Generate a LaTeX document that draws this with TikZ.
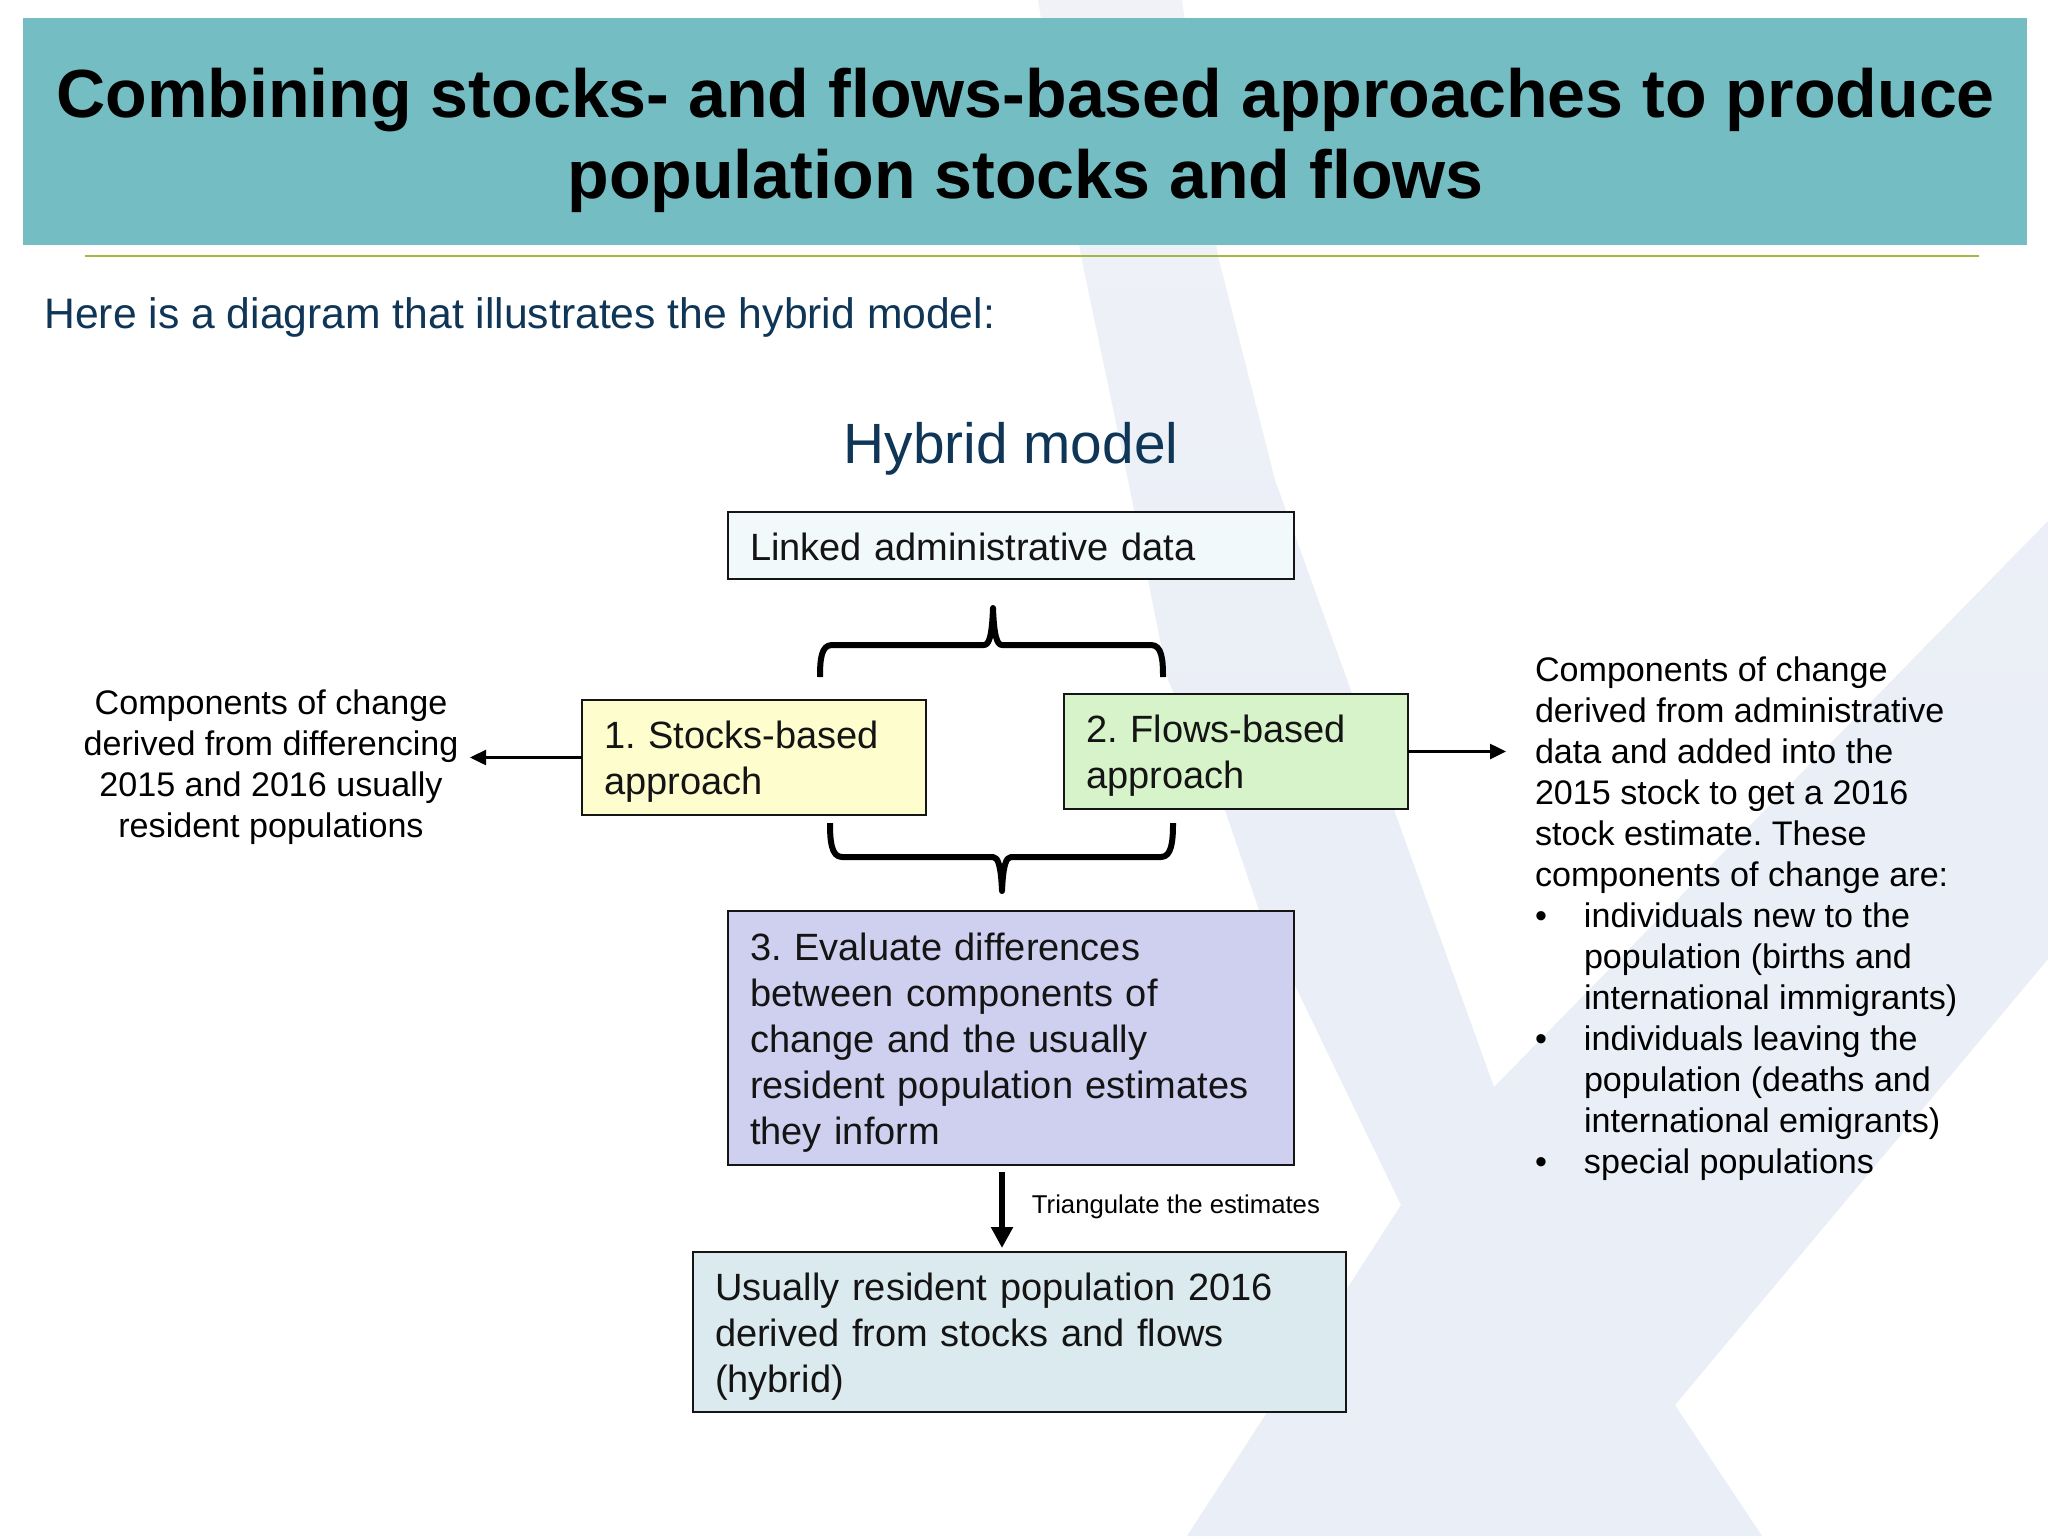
\documentclass[tikz,border=0pt]{standalone}
\usepackage{fontspec}
\setmainfont{Liberation Sans}
\usetikzlibrary{arrows.meta}
\AtBeginDocument{\frenchspacing}
\definecolor{banner}{HTML}{74BDC3}
\definecolor{rulecol}{HTML}{A8B83F}
\definecolor{navy}{HTML}{0F3557}
\definecolor{wmarkT}{HTML}{F0F2F8}
\definecolor{wmarkB}{HTML}{EAEEF6}
\definecolor{boxline}{HTML}{151515}
\definecolor{fillA}{HTML}{F2F9FA}
\definecolor{fillB}{HTML}{FDFDCD}
\definecolor{fillC}{HTML}{D7F3C9}
\definecolor{fillD}{HTML}{CFCFEF}
\definecolor{fillE}{HTML}{DBEAEE}
\newcommand{\bul}{\makebox[24.5pt][l]{•}}
\newcommand{\topup}[1]{\rule{0pt}{#1}}
\tikzset{
  panel/.style={draw=boxline,line width=1.05pt,anchor=north west,inner xsep=11pt,inner ysep=0pt,
    outer sep=0pt,align=left,font=\fontsize{19}{23}\selectfont,text=black!92},
  side/.style={inner sep=0pt,outer sep=0pt,font=\fontsize{17.05}{20.5}\selectfont,text=black},
  thinarrow/.style={line width=1.25pt,draw=black,-{Triangle[length=8pt,width=7.5pt]}},
  thickarrow/.style={line width=3pt,draw=black,-{Triangle[length=10.5pt,width=10.5pt]}},
  bracket/.style={line width=3pt,draw=black,line join=round}
}
\begin{document}
\begin{tikzpicture}[x=0.5pt,y=-0.5pt]
\useasboundingbox (0,0) rectangle (2048,1536);
\fill[white] (0,0) rectangle (2048,1536);
% watermark
\shade[top color=wmarkT,bottom color=wmarkB,middle color=wmarkB] (1038,0) -- (1182,0) -- (1218,256) -- (1275,480) -- (1494,1087) -- (2048,521)
  -- (2048,959) -- (1675,1405) -- (1762,1536) -- (1187,1536) -- (1401,1205)
  -- (1260,913) -- (1226,813) -- (1168,680) -- (1128,480) -- (1081,256) -- cycle;
% header
\fill[banner] (23,18) rectangle (2027,245);
\node[inner sep=0pt,outer sep=0pt,align=center,font=\fontsize{34.07}{40.6}\bfseries\selectfont,text=black] (title) at (1025.5,140)
  {Combining stocks- and flows-based approaches to produce\\population stocks and flows};
\coordinate (ruleL) at (85,256);
\coordinate (ruleR) at (1979,256);
\draw[rulecol,line width=1.25pt] (ruleL) -- (ruleR);
\node[anchor=base west,inner sep=0pt,font=\fontsize{21.33}{26}\selectfont,text=navy] (intro) at (44,328)
  {Here is a diagram that illustrates the hybrid model:};
\node[anchor=base,inner sep=0pt,font=\fontsize{28.4}{35}\selectfont,text=navy] (hybrid) at (1011,463) {Hybrid model};
% boxes
\node[panel,fill=fillA,minimum width=283pt,minimum height=33.5pt,text width=261pt] (linked) at (728,512)
  {\topup{15.3pt}Linked administrative data};
\node[panel,fill=fillB,minimum width=172pt,minimum height=57.5pt,text width=150pt] (stocks) at (582,700)
  {\topup{18pt}1. Stocks-based\\approach};
\node[panel,fill=fillC,minimum width=172pt,minimum height=57.5pt,text width=150pt] (flows) at (1064,694)
  {\topup{18pt}2. Flows-based\\approach};
\node[panel,fill=fillD,minimum width=283pt,minimum height=127pt,text width=261pt] (evaluate) at (728,911)
  {\topup{18pt}3. Evaluate differences\\between components of\\change and the usually\\resident population estimates\\they inform};
\node[panel,fill=fillE,minimum width=326.5pt,minimum height=80pt,text width=304.5pt] (usual) at (693,1252)
  {\topup{18pt}Usually resident population 2016\\derived from stocks and flows\\(hybrid)};
% side texts
\node[side,align=center] (lefttext) at (271,767)
  {Components of change\\derived from differencing\\2015 and 2016 usually\\resident populations};
\node[side,align=left,anchor=north west] (righttext) at (1535,657)
  {Components of change\\derived from administrative\\data and added into the\\2015 stock to get a 2016\\stock estimate. These\\components of change are:\\
  \bul individuals new to the\\\hspace*{24.5pt}population (births and\\\hspace*{24.5pt}international immigrants)\\
  \bul individuals leaving the\\\hspace*{24.5pt}population (deaths and\\\hspace*{24.5pt}international emigrants)\\
  \bul special populations};
\node[anchor=base west,inner sep=0pt,font=\fontsize{12.87}{15}\selectfont,text=black] (tri) at (1031.5,1213)
  {Triangulate the estimates};
% connectors
\coordinate (lefttip) at (470,757);
\coordinate (righttip) at (1506,751);
\coordinate (triStart) at (1002,1172);
\coordinate (triEnd) at (1002,1248);
\draw[thinarrow] (stocks.west) -- (stocks.west -| lefttip);
\draw[thinarrow] (flows.east) -- (flows.east -| righttip);
\draw[thickarrow] (triStart) -- (triEnd);
% brackets
\draw[bracket] (820,677) .. controls (820,660) and (821,645) .. (832,645) -- (984,645)
  .. controls (989,645) and (992,636) .. (993,608)
  .. controls (994,636) and (997,645) .. (1002,645) -- (1151,645)
  .. controls (1162,645) and (1163,660) .. (1163,677);
\draw[bracket] (830,823) .. controls (830,840) and (831,857) .. (842,857) -- (993,857)
  .. controls (998,857) and (1001,866) .. (1002,891)
  .. controls (1003,866) and (1006,857) .. (1011,857) -- (1161,857)
  .. controls (1172,857) and (1173,840) .. (1173,823);
\end{tikzpicture}
\end{document}
